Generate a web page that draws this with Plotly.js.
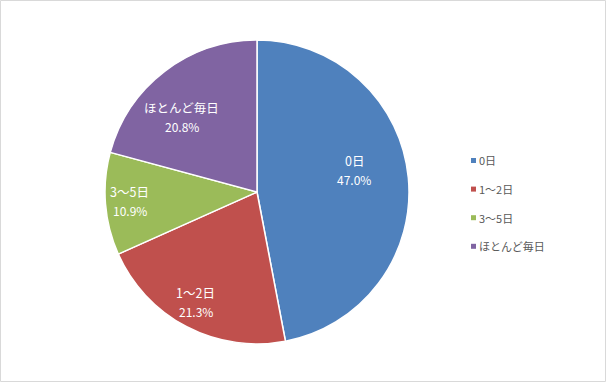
<!DOCTYPE html>
<html><head><meta charset="utf-8">
<script src="https://cdn.plot.ly/plotly-3.0.1.min.js"></script>
<style>html,body{margin:0;padding:0;background:#fff}#c{width:607px;height:383px}</style>
</head><body><div id="c"></div>
<script>
var categories = ["0日", "1〜2日", "3〜5日", "ほとんど毎日"];
var values = [47.0, 21.3, 10.9, 20.8];
var colors = ["#4F81BD", "#C0504D", "#9BBB59", "#8064A2"];
// label placement (fraction of radius, angular nudge in degrees) – "best fit" style
var labelRadius = [0.655, 0.83, 0.84, 0.70];
var labelNudge = [-7.4, 1.5, 0.4, -7.6];

var W = 607, H = 383;
var cx = 257, cy = 192, R = 152;
var font = "'Noto Sans CJK JP', 'Noto Sans', sans-serif";

var trace = {
  type: "pie",
  labels: categories,
  values: values,
  sort: false,
  direction: "clockwise",
  rotation: 0,
  marker: {colors: colors, line: {color: "#ffffff", width: 1.5}},
  textinfo: "none",
  hoverinfo: "label+percent",
  showlegend: false,
  domain: {x: [(cx - R) / W, (cx + R) / W], y: [1 - (cy + R) / H, 1 - (cy - R) / H]}
};

var shapes = [{type: "rect", xref: "paper", yref: "paper", x0: 0.5 / W, x1: 1 - 1.5 / W, y0: 1.5 / H, y1: 1 - 0.5 / H,
  line: {color: "#D9D9D9", width: 1}}];
var annotations = [];

// slice labels, positioned from the data's angles
var total = values.reduce(function (a, b) { return a + b; }, 0);
var cum = 0;
values.forEach(function (v, i) {
  var mid = (cum + v / 2) / total * 360 + labelNudge[i];
  cum += v;
  var a = mid * Math.PI / 180;
  var px = cx + Math.sin(a) * R * labelRadius[i];
  var py = cy - Math.cos(a) * R * labelRadius[i];
  var pct = (v / total * 100).toFixed(1) + "%";
  annotations.push({xref: "paper", yref: "paper", x: px / W, y: 1 - (py - 9.5) / H,
    xanchor: "center", yanchor: "middle", showarrow: false, text: categories[i],
    font: {family: font, size: 12.5, color: "#ffffff"}});
  annotations.push({xref: "paper", yref: "paper", x: px / W, y: 1 - (py + 9.5) / H,
    xanchor: "center", yanchor: "middle", showarrow: false, text: pct,
    font: {family: font, size: 12, color: "#ffffff"}});
});

// legend drawn from the category / colour arrays
var legX = 471, legY0 = 160.5, legStep = 28.6;
categories.forEach(function (c, i) {
  var y = legY0 + i * legStep;
  shapes.push({type: "rect", xref: "paper", yref: "paper",
    x0: legX / W, x1: (legX + 5) / W, y0: 1 - (y + 2.5) / H, y1: 1 - (y - 2.5) / H,
    fillcolor: colors[i], line: {width: 0}});
  annotations.push({xref: "paper", yref: "paper", x: (legX + 6) / W, y: 1 - y / H,
    xanchor: "left", yanchor: "middle", showarrow: false, text: c,
    font: {family: font, size: 11, color: "#595959"}});
});

var layout = {
  width: W, height: H,
  margin: {l: 0, r: 0, t: 0, b: 0},
  paper_bgcolor: "#ffffff",
  showlegend: false,
  shapes: shapes,
  annotations: annotations
};
Plotly.newPlot("c", [trace], layout, {displayModeBar: false, staticPlot: true});
</script></body></html>
